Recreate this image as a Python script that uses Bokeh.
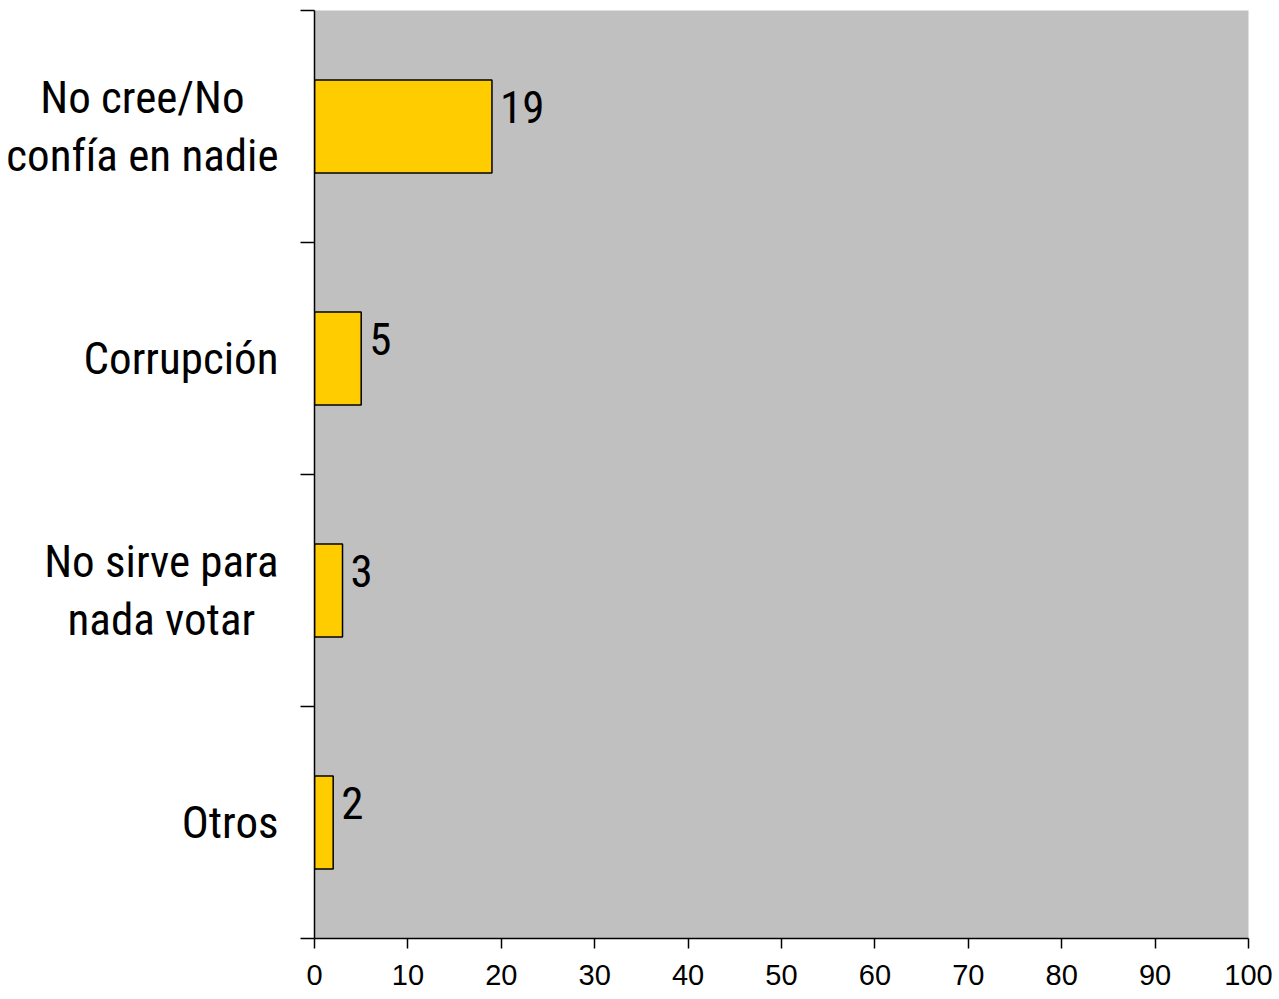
from bokeh.plotting import figure
from bokeh.layouts import row
from bokeh.models import ColumnDataSource, Range1d, FixedTicker
from bokeh.core.properties import value
from bokeh.embed import file_html
from bokeh.resources import INLINE

categories = ["No cree/No\nconfía en nadie", "Corrupción", "No sirve para\nnada votar", "Otros"]
values = [19, 5, 3, 2]
x_ticks = [0, 10, 20, 30, 40, 50, 60, 70, 80, 90, 100]

NARROW = "'Roboto Condensed', 'Liberation Sans'"
REG = "'Liberation Sans', Arial"

ypos = [i + 0.5 for i in range(len(categories))]
src = ColumnDataSource(dict(y=ypos, v=values, lbl=[str(v) for v in values]))
yr = Range1d(len(categories), 0)

TOP, BOTTOM, H = 10, 60, 998
LEFT_W = 294          # width of the label panel
LABEL_GAP = 16        # distance of label block from the panel's right edge

# ---- label panel (category names) ----
lp = figure(width=LEFT_W, height=H, output_backend="svg", toolbar_location=None,
            x_range=Range1d(0, LEFT_W), y_range=yr,
            x_axis_location=None, y_axis_location=None,
            min_border_left=0, min_border_right=0, min_border_top=TOP, min_border_bottom=BOTTOM)
lp.outline_line_color = None
lp.grid.visible = False
lp.background_fill_color = "white"
lsrc = ColumnDataSource(dict(x=[LEFT_W - LABEL_GAP] * len(categories), y=ypos, t=categories))
lp.text(x="x", y="y", text="t", source=lsrc, anchor="center_right", text_align="center",
        text_font=value(NARROW), text_font_size="45px", text_color="black",
        text_line_height=1.1)

# ---- main chart ----
p = figure(width=1276 - LEFT_W, height=H, output_backend="svg", toolbar_location=None,
           x_range=Range1d(0, 100), y_range=yr,
           min_border_left=20, min_border_right=28, min_border_top=TOP, min_border_bottom=BOTTOM)
p.background_fill_color = "#C0C0C0"
p.border_fill_color = "white"
p.outline_line_color = None
p.grid.visible = False

p.hbar(y="y", right="v", left=0, height=0.4, source=src,
       fill_color="#FFCC00", line_color="black", line_width=1.5)
p.text(x="v", y="y", text="lbl", source=src, x_offset=8, y_offset=-20,
       text_font=value(NARROW), text_font_size="45px", text_align="left",
       text_baseline="middle", text_color="black")

xa = p.xaxis[0]
xa.ticker = FixedTicker(ticks=x_ticks)
xa.axis_line_color = "black"
xa.axis_line_width = 1.5
xa.major_tick_out = 10
xa.major_tick_in = 0
xa.major_tick_line_width = 1.5
xa.minor_tick_out = 0
xa.minor_tick_in = 0
xa.major_label_text_font = REG
xa.major_label_text_font_size = "29px"
xa.major_label_text_color = "black"
xa.major_label_standoff = 16

ya = p.yaxis[0]
ya.ticker = FixedTicker(ticks=[], minor_ticks=list(range(len(categories) + 1)))
ya.major_label_text_font_size = "0px"
ya.major_label_standoff = 0
ya.axis_line_color = "black"
ya.axis_line_width = 1.5
ya.major_tick_out = 0
ya.major_tick_in = 0
ya.minor_tick_out = 14
ya.minor_tick_in = 0
ya.minor_tick_line_color = "black"
ya.minor_tick_line_width = 1.5

layout = row(lp, p, spacing=0)
open("out.html", "w").write(file_html(layout, INLINE))
